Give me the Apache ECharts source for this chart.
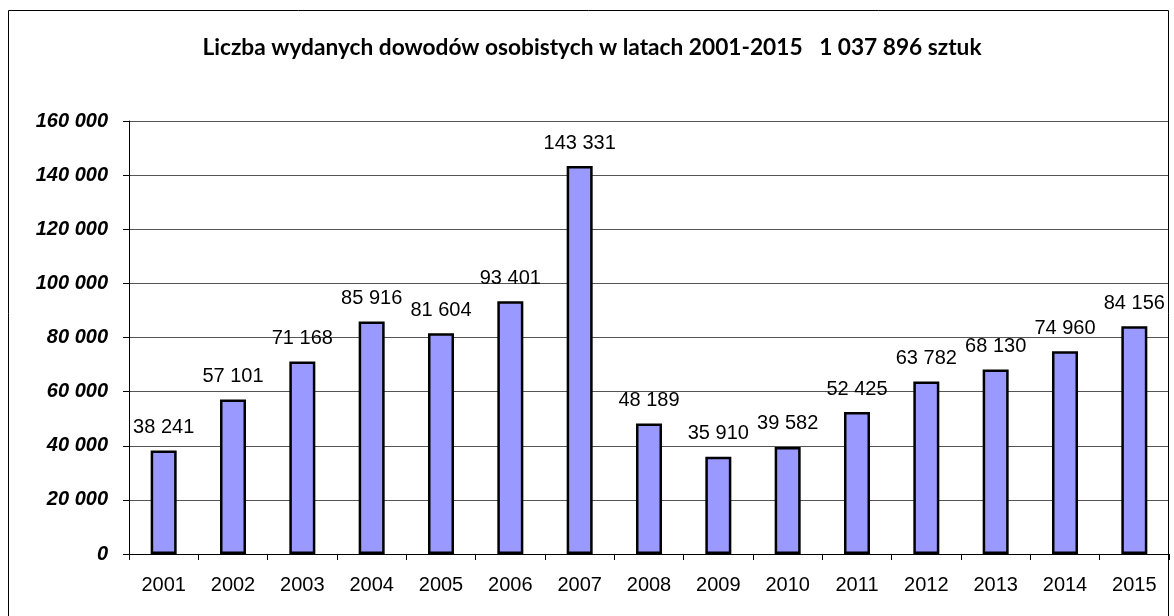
<!DOCTYPE html>
<html><head><meta charset="utf-8">
<script src="https://cdn.jsdelivr.net/npm/echarts@6/dist/echarts.min.js"></script>
<style>html,body{margin:0;padding:0;background:#fff}#c{width:1174px;height:616px}</style>
</head><body><div id="c"></div>
<script>
const titleText = 'Liczba wydanych dowodów osobistych w latach 2001-2015   1 037 896 sztuk';
const years = ['2001','2002','2003','2004','2005','2006','2007','2008','2009','2010','2011','2012','2013','2014','2015'];
const issued = [38241,57101,71168,85916,81604,93401,143331,48189,35910,39582,52425,63782,68130,74960,84156];
const yTicks = [0,20000,40000,60000,80000,100000,120000,140000,160000];

function fmt(v){return String(v).replace(/\B(?=(\d{3})+(?!\d))/g,' ');}

const chart = echarts.init(document.getElementById('c'), null, {renderer:'canvas'});
chart.setOption({
  animation:false,
  backgroundColor:'#fff',
  title:{text:titleText,left:587,textAlign:'center',top:31,
    textStyle:{fontFamily:'Lato, "Open Sans", sans-serif',fontWeight:'bold',fontSize:22.7,color:'#000'}},
  graphic:[{type:'rect',shape:{x:8.5,y:10.5,width:1160,height:700},
    style:{fill:'none',stroke:'#000',lineWidth:1},z:100,silent:true}],
  grid:{left:129,right:5,top:121,bottom:62,containLabel:false},
  xAxis:{type:'category',data:years,boundaryGap:true,
    axisLine:{show:true,lineStyle:{color:'#000',width:1}},
    axisTick:{show:true,alignWithLabel:false,length:6,lineStyle:{color:'#000'}},
    axisLabel:{margin:21,fontFamily:'"Liberation Sans", Arial, sans-serif',fontSize:20,color:'#000'}},
  yAxis:{type:'value',min:yTicks[0],max:yTicks[yTicks.length-1],interval:20000,
    axisLine:{show:true,lineStyle:{color:'#000',width:1}},
    axisTick:{show:true,length:6,lineStyle:{color:'#000'}},
    splitLine:{show:true,lineStyle:{color:'#555',width:1}},
    axisLabel:{margin:21,formatter:v=>fmt(v),fontFamily:'"Liberation Sans", Arial, sans-serif',
      fontSize:20,fontWeight:'bold',fontStyle:'italic',color:'#000'}},
  series:[{type:'bar',data:issued,barWidth:26,
    itemStyle:{color:'#9999FF',borderColor:'#000',borderWidth:2.5},
    label:{show:true,position:'top',distance:13,formatter:p=>fmt(p.value),
      fontFamily:'"Liberation Sans", Arial, sans-serif',fontSize:20,color:'#000'}}]
});
</script></body></html>
